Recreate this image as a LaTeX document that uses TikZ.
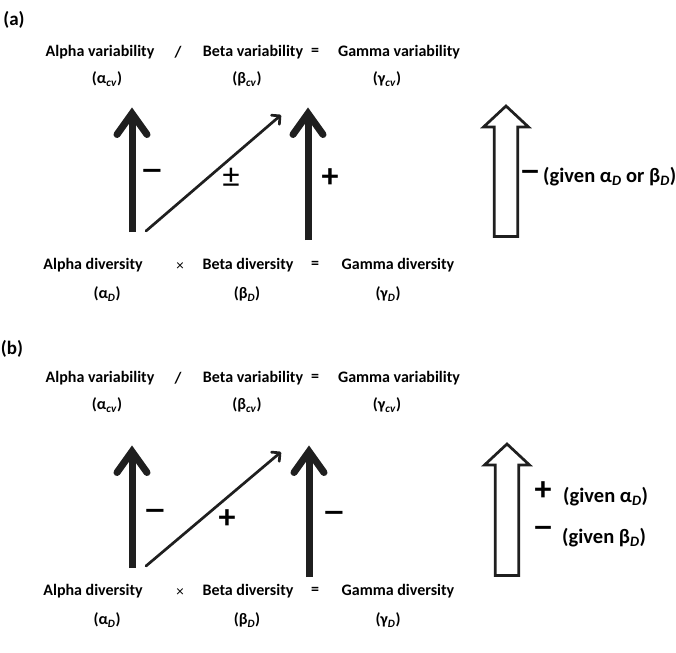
\documentclass[tikz,border=0pt]{standalone}
\usepackage{fontspec}
\usepackage{graphicx}
\setmainfont{Carlito}
\usetikzlibrary{arrows.meta,calc}
\newcommand\subit[1]{\textsubscript{\textit{#1}}}
\newcommand\wideminus{\scalebox{1.43}[1]{–}}
\newcommand\midminus{\scalebox{1.3}[1]{–}}
\tikzset{
  lbl/.style={font=\bfseries\fontsize{16}{18}\selectfont, inner sep=0pt},
  op/.style={font=\bfseries\fontsize{16}{18}\selectfont, inner sep=0pt},
  opthin/.style={font=\fontsize{15}{17}\selectfont, inner sep=0pt},
  sign/.style={font=\bfseries\fontsize{34}{36}\selectfont, inner sep=0pt},
  signthin/.style={font=\fontsize{34}{36}\selectfont, inner sep=0pt},
  given/.style={font=\bfseries\fontsize{20.5}{23}\selectfont, inner sep=0pt, anchor=west},
  panel/.style={font=\bfseries\fontsize{19}{21}\selectfont, inner sep=0pt},
  thickshaft/.style={line width=7pt, line cap=butt, color=black!88},
  thickhead/.style={line width=7pt, line cap=round, line join=miter, color=black!88},
  thinarrow/.style={line width=2.7pt, color=black!88, line cap=round, -{Straight Barb[length=6pt,width=12pt,round]}},
  hollow/.style={line width=2.7pt, line join=miter, draw=black!88, fill=white},
}
\begin{document}
\begin{tikzpicture}[x=1pt,y=-1pt]
\useasboundingbox (0,0) rectangle (676,652);
\fill[white] (0,0) rectangle (676,652);

% ---------- panel (a) ----------
\node[panel] (pa) at (14,20) {(a)};
\node[lbl] (aAv) at (100,52) {Alpha variability};
\node[op]  (aDiv) at (178,52) {/};
\node[lbl] (aBv) at (253,52) {Beta variability};
\node[op]  (aEq1) at (315,52) {=};
\node[lbl] (aGv) at (399,52) {Gamma variability};
\node[lbl] (aAcv) at (107,79) {(α\subit{cv})};
\node[lbl] (aBcv) at (247,79) {(β\subit{cv})};
\node[lbl] (aGcv) at (387,79) {(γ\subit{cv})};

\node[lbl] (aAd) at (93,265) {Alpha diversity};
\node[opthin] (aTimes) at (180,267) {×};
\node[lbl] (aBd) at (248,265) {Beta diversity};
\node[op]  (aEq2) at (315,265) {=};
\node[lbl] (aGd) at (398,265) {Gamma diversity};
\node[lbl] (aAD) at (107,294) {(α\subit{D})};
\node[lbl] (aBD) at (247,294) {(β\subit{D})};
\node[lbl] (aGD) at (388,294) {(γ\subit{D})};

% arrows (a)
\coordinate (aLb) at (132,232); \coordinate (aLt) at (132,113.5);
\draw[thickshaft] (aLb) -- (aLt);
\draw[thickhead] ([shift={(-15,21)}]aLt) -- (aLt) -- ([shift={(15,21)}]aLt);
\coordinate (aRb) at (308,240); \coordinate (aRt) at (308,113.5);
\draw[thickshaft] (aRb) -- (aRt);
\draw[thickhead] ([shift={(-15,21)}]aRt) -- (aRt) -- ([shift={(15,21)}]aRt);
\coordinate (aDs) at (146,231); \coordinate (aDe) at (281,115);
\draw[thinarrow] (aDs) -- (aDe);
\coordinate (aGt) at (506,106);
\draw[hollow] (494.3,236.5) -- (494.3,127) -- (483.5,127) -- (aGt) -- (528.5,127) -- (517.7,127) -- (517.7,236.5) -- cycle;

\node[sign] (aS1) at (152,175) {\wideminus};
\node[signthin] (aS2) at (231,178) {±};
\node[sign] (aS3) at (330,178) {+};
\node[sign] (aS4) at (530,176) {\midminus};
\node[given] (aG) at (543,177) {(given α\subit{D} or β\subit{D})};

% ---------- panel (b) ----------
\node[panel] (pb) at (12,349) {(b)};
\node[lbl] (bAv) at (100,378) {Alpha variability};
\node[op]  (bDiv) at (178,378) {/};
\node[lbl] (bBv) at (253,378) {Beta variability};
\node[op]  (bEq1) at (315,378) {=};
\node[lbl] (bGv) at (399,378) {Gamma variability};
\node[lbl] (bAcv) at (107,405) {(α\subit{cv})};
\node[lbl] (bBcv) at (247,405) {(β\subit{cv})};
\node[lbl] (bGcv) at (387,405) {(γ\subit{cv})};

\node[lbl] (bAd) at (93,591) {Alpha diversity};
\node[opthin] (bTimes) at (180,593) {×};
\node[lbl] (bBd) at (248,591) {Beta diversity};
\node[op]  (bEq2) at (315,591) {=};
\node[lbl] (bGd) at (398,591) {Gamma diversity};
\node[lbl] (bAD) at (107,620) {(α\subit{D})};
\node[lbl] (bBD) at (247,620) {(β\subit{D})};
\node[lbl] (bGD) at (388,620) {(γ\subit{D})};

% arrows (b)
\coordinate (bLb) at (132,568); \coordinate (bLt) at (132,451.5);
\draw[thickshaft] (bLb) -- (bLt);
\draw[thickhead] ([shift={(-15,21)}]bLt) -- (bLt) -- ([shift={(15,21)}]bLt);
\coordinate (bRb) at (309,577); \coordinate (bRt) at (309,451.5);
\draw[thickshaft] (bRb) -- (bRt);
\draw[thickhead] ([shift={(-15,21)}]bRt) -- (bRt) -- ([shift={(15,21)}]bRt);
\coordinate (bDs) at (146,566); \coordinate (bDe) at (281,452);
\draw[thinarrow] (bDs) -- (bDe);
\coordinate (bGt) at (507,444);
\draw[hollow] (495.3,575.5) -- (495.3,465) -- (484.5,465) -- (bGt) -- (529.5,465) -- (518.7,465) -- (518.7,575.5) -- cycle;

\node[sign] (bS1) at (155,515) {\wideminus};
\node[sign] (bS2) at (227,519) {+};
\node[sign] (bS3) at (334,517) {\wideminus};
\node[sign] (bS4) at (543,491) {+};
\node[given] (bG1) at (563,497) {(given α\subit{D})};
\node[sign] (bS5) at (543,532) {\midminus};
\node[given] (bG2) at (562,538) {(given β\subit{D})};
\end{tikzpicture}
\end{document}
